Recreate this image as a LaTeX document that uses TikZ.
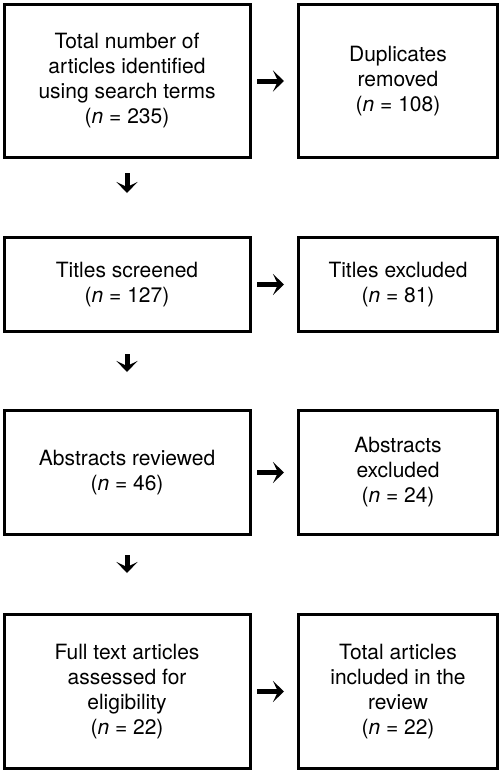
\documentclass[tikz,border=0pt]{standalone}
\usepackage{fontspec}
\setmainfont{TeX Gyre Heros}
\usetikzlibrary{arrows.meta}
\begin{document}
\begin{tikzpicture}[x=1pt, y=-1pt, >={Stealth[length=11pt, width=21pt, inset=5pt]},
    box/.style={draw, line width=3pt, align=center, inner sep=0pt,
      font=\fontsize{21}{25}\selectfont},
    leftbox/.style={box, minimum width=246pt},
    rightbox/.style={box, minimum width=199pt},
    flow/.style={->, line width=5pt}]
    \useasboundingbox (0,0) rectangle (500,772);

    % Left column
    \node[leftbox, minimum height=153pt] (total) at (127,81)
      {Total number of\\articles identified\\using search terms\\(\textit{n} = 235)};
    \node[leftbox, minimum height=94pt] (titles) at (127,284.5)
      {Titles screened\\(\textit{n} = 127)};
    \node[leftbox, minimum height=124pt] (abstracts) at (127,472.5)
      {Abstracts reviewed\\(\textit{n} = 46)};
    \node[leftbox, minimum height=154pt] (fulltext) at (127,691.5)
      {Full text articles\\assessed for\\eligibility\\(\textit{n} = 22)};

    % Right column
    \node[rightbox, minimum height=153pt] (dupl) at (398,81)
      {Duplicates\\removed\\(\textit{n} = 108)};
    \node[rightbox, minimum height=94pt] (titlesexcl) at (398,284.5)
      {Titles excluded\\(\textit{n} = 81)};
    \node[rightbox, minimum height=124pt] (abstractsexcl) at (398,472.5)
      {Abstracts\\excluded\\(\textit{n} = 24)};
    \node[rightbox, minimum height=154pt] (included) at (398,691.5)
      {Total articles\\included in the\\review\\(\textit{n} = 22)};

    % Arrows across
    \foreach \a/\b in {total/dupl, titles/titlesexcl, abstracts/abstractsexcl, fulltext/included}
      \draw[flow, shorten <=5.5pt, shorten >=13pt] (\a) -- (\b);

    % Arrows down
    \draw[flow, shorten <=14pt, shorten >=43pt] (total) -- (titles);
    \draw[flow, shorten <=21pt, shorten >=37pt] (titles) -- (abstracts);
    \draw[flow, shorten <=19pt, shorten >=40pt] (abstracts) -- (fulltext);
\end{tikzpicture}
\end{document}
